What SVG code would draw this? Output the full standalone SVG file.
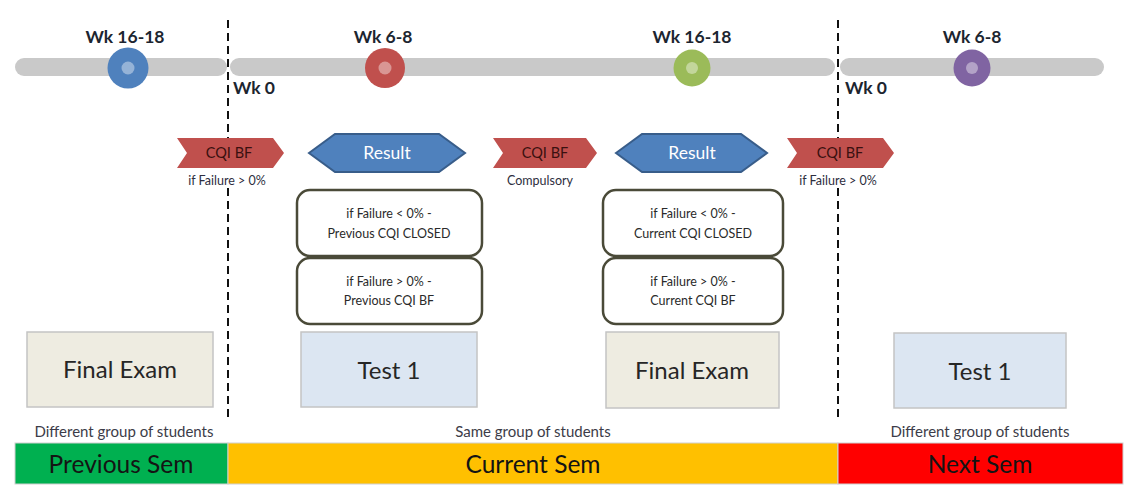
<svg xmlns="http://www.w3.org/2000/svg" width="1125" height="489" viewBox="0 0 1125 489">
  <style>
    .wk { font-family: Lato, "Liberation Sans", sans-serif; font-size: 17.5px; font-weight: bold; fill: #1c2530; }
    .bar { fill: #c9c9c9; }
    .divider { stroke: #111; stroke-width: 2; stroke-dasharray: 8 5; fill: none; }
    .chev { fill: #c0504d; }
    .chevtxt { font-family: Lato, "Liberation Sans", sans-serif; font-size: 14.5px; fill: #3a1010; text-anchor: middle; }
    .note { font-family: Lato, "Liberation Sans", sans-serif; font-size: 12.5px; fill: #2e2e40; text-anchor: middle; }
    .hex { fill: #4f81bd; stroke: #385d8a; stroke-width: 2; }
    .hextxt { font-family: Lato, "Liberation Sans", sans-serif; font-size: 17.5px; fill: #ffffff; text-anchor: middle; }
    .cond { fill: #ffffff; stroke: #4a4a38; stroke-width: 2.5; }
    .condtxt { font-family: Lato, "Liberation Sans", sans-serif; font-size: 12.5px; fill: #2a2a2a; text-anchor: middle; }
    .assess { stroke: #c4c4c4; stroke-width: 1.5; }
    .assesstxt { font-family: Lato, "Liberation Sans", sans-serif; font-size: 24px; fill: #262626; text-anchor: middle; }
    .group { font-family: Lato, "Liberation Sans", sans-serif; font-size: 15px; fill: #3c3c48; text-anchor: middle; }
    .sem { stroke: #d0d0d0; stroke-width: 1; }
    .semtxt { font-family: Lato, "Liberation Sans", sans-serif; font-size: 24.5px; fill: #141414; text-anchor: middle; }
  </style>

  <!-- timeline track -->
  <g id="timeline">
    <rect class="bar" x="15" y="58" width="212" height="18" rx="9"/>
    <rect class="bar" x="230" y="58" width="605" height="18" rx="9"/>
    <rect class="bar" x="840" y="58" width="264" height="18" rx="9"/>
  </g>

  <!-- semester dividers (broken where the notes sit) -->
  <g id="dividers">
    <line class="divider" x1="228" y1="20" x2="228" y2="140"/>
    <line class="divider" x1="228" y1="188" x2="228" y2="420"/>
    <line class="divider" x1="838" y1="20" x2="838" y2="140"/>
    <line class="divider" x1="838" y1="188" x2="838" y2="420"/>
    <text class="wk" x="233" y="94">Wk 0</text>
    <text class="wk" x="845" y="94">Wk 0</text>
  </g>

  <!-- milestones -->
  <g id="m-prev-final">
    <text class="wk" x="125" y="43" text-anchor="middle">Wk 16-18</text>
    <circle cx="128" cy="68" r="20.5" fill="#4f81bd"/>
    <circle cx="128" cy="68" r="6.5" fill="#95b3d7"/>
  </g>
  <g id="m-cur-test">
    <text class="wk" x="383" y="43" text-anchor="middle">Wk 6-8</text>
    <circle cx="385" cy="68" r="20" fill="#c0504d"/>
    <circle cx="385" cy="68" r="6.5" fill="#d99694"/>
  </g>
  <g id="m-cur-final">
    <text class="wk" x="692" y="43" text-anchor="middle">Wk 16-18</text>
    <circle cx="692" cy="68" r="18.5" fill="#9bbb59"/>
    <circle cx="692" cy="68" r="6" fill="#c3d69b"/>
  </g>
  <g id="m-next-test">
    <text class="wk" x="972" y="43" text-anchor="middle">Wk 6-8</text>
    <circle cx="972" cy="68" r="18.5" fill="#8064a2"/>
    <circle cx="972" cy="68" r="6" fill="#b3a2c7"/>
  </g>

  <!-- CQI BF chevrons -->
  <g id="cqi-1">
    <polygon class="chev" points="177,138 273,138 284,153 273,168 177,168 187,153"/>
    <text class="chevtxt" x="229" y="158">CQI BF</text>
    <text class="note" x="227" y="185">if Failure &gt; 0%</text>
  </g>
  <g id="cqi-2">
    <polygon class="chev" points="493,138 586,138 597,153 586,168 493,168 503,153"/>
    <text class="chevtxt" x="545" y="158">CQI BF</text>
    <text class="note" x="540" y="185">Compulsory</text>
  </g>
  <g id="cqi-3">
    <polygon class="chev" points="787,138 883,138 894,153 883,168 787,168 797,153"/>
    <text class="chevtxt" x="840" y="158">CQI BF</text>
    <text class="note" x="838" y="185">if Failure &gt; 0%</text>
  </g>

  <!-- results -->
  <g id="result-1">
    <polygon class="hex" points="309,153 335,134 439,134 465,153 439,172 335,172"/>
    <text class="hextxt" x="387" y="159">Result</text>
  </g>
  <g id="result-2">
    <polygon class="hex" points="616,153 642,134 741,134 767,153 741,172 642,172"/>
    <text class="hextxt" x="692" y="159">Result</text>
  </g>

  <!-- outcome boxes -->
  <g id="prev-closed">
    <rect class="cond" x="297" y="190" width="185" height="66" rx="13"/>
    <text class="condtxt" x="389" y="218">if Failure &lt; 0% -</text>
    <text class="condtxt" x="389" y="238">Previous CQI CLOSED</text>
  </g>
  <g id="prev-bf">
    <rect class="cond" x="297" y="258" width="185" height="66" rx="13"/>
    <text class="condtxt" x="389" y="286">if Failure &gt; 0% -</text>
    <text class="condtxt" x="389" y="305">Previous CQI BF</text>
  </g>
  <g id="cur-closed">
    <rect class="cond" x="603" y="190" width="180" height="66" rx="13"/>
    <text class="condtxt" x="693" y="218">if Failure &lt; 0% -</text>
    <text class="condtxt" x="693" y="238">Current CQI CLOSED</text>
  </g>
  <g id="cur-bf">
    <rect class="cond" x="603" y="258" width="180" height="66" rx="13"/>
    <text class="condtxt" x="693" y="286">if Failure &gt; 0% -</text>
    <text class="condtxt" x="693" y="305">Current CQI BF</text>
  </g>

  <!-- assessments -->
  <g id="prev-final-exam">
    <rect class="assess" x="27" y="332" width="186" height="75" fill="#eeece1"/>
    <text class="assesstxt" x="120" y="378">Final Exam</text>
  </g>
  <g id="cur-test-1">
    <rect class="assess" x="301" y="332" width="176" height="75" fill="#dce6f2"/>
    <text class="assesstxt" x="389" y="379">Test 1</text>
  </g>
  <g id="cur-final-exam">
    <rect class="assess" x="606" y="332" width="173" height="76" fill="#eeece1"/>
    <text class="assesstxt" x="692" y="379">Final Exam</text>
  </g>
  <g id="next-test-1">
    <rect class="assess" x="894" y="333" width="172" height="75" fill="#dce6f2"/>
    <text class="assesstxt" x="980" y="380">Test 1</text>
  </g>

  <!-- semesters -->
  <g id="sem-prev">
    <text class="group" x="124" y="437">Different group of students</text>
    <rect class="sem" x="15" y="443" width="213" height="41" fill="#00b050"/>
    <text class="semtxt" x="121" y="473">Previous Sem</text>
  </g>
  <g id="sem-cur">
    <text class="group" x="533" y="437">Same group of students</text>
    <rect class="sem" x="228" y="443" width="610" height="41" fill="#ffc000"/>
    <text class="semtxt" x="533" y="473">Current Sem</text>
  </g>
  <g id="sem-next">
    <text class="group" x="980" y="437">Different group of students</text>
    <rect class="sem" x="838" y="443" width="285" height="41" fill="#ff0000"/>
    <text class="semtxt" x="980" y="473">Next Sem</text>
  </g>
</svg>
